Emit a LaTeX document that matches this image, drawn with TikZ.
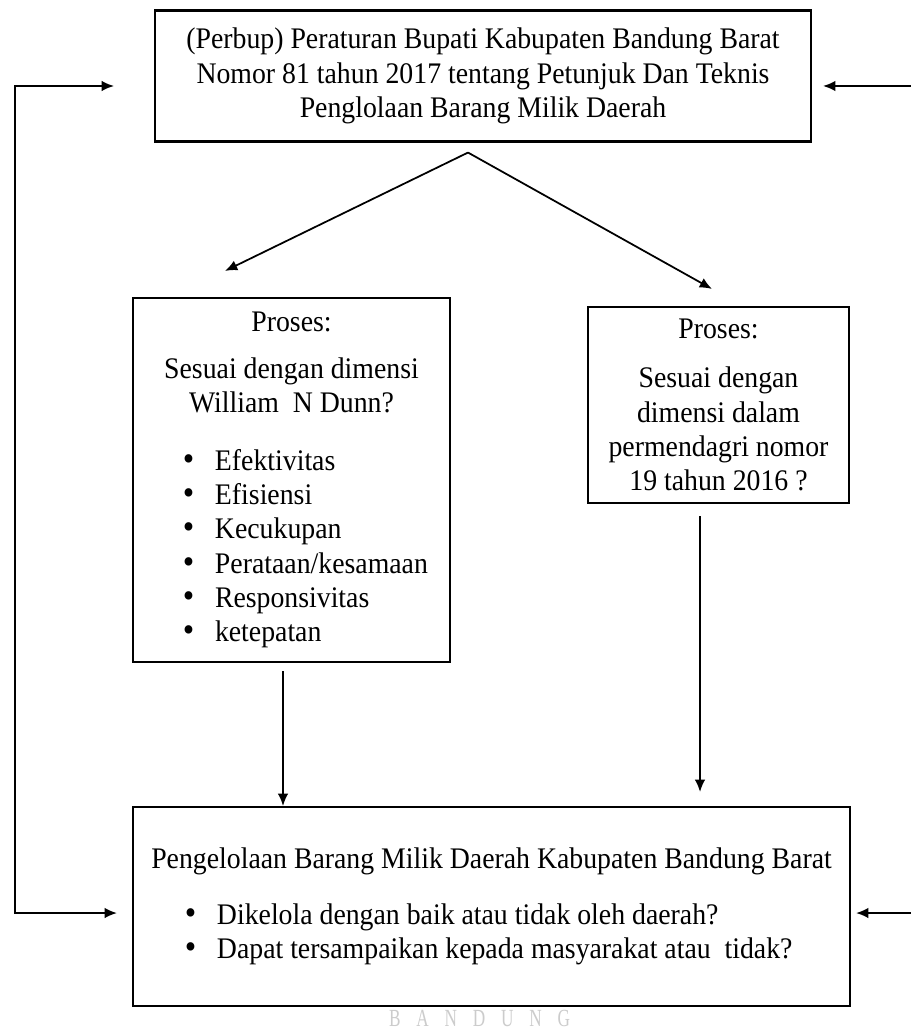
\documentclass[tikz,border=0pt]{standalone}
\usepackage{xcolor}
\usepackage{fontspec}
\setmainfont[FakeStretch=0.93]{Liberation Serif}
\newfontfamily\wmfont[FakeStretch=0.7]{Liberation Serif}
\usepackage{tikz}
\usetikzlibrary{arrows,arrows.meta,shapes,positioning,calc}
\tikzset{box/.style={draw, rectangle, line width=1.2pt, inner sep=0pt, align=center,
    font=\fontsize{17}{19.5}\selectfont}}
\tikzset{arr/.style={-{Latex[length=7pt,width=6pt]}, line width=1pt}}
\newcommand{\itm}[2][43.4mm]{\makebox[#1][l]{\makebox[6.4mm][l]{\fontsize{20}{0}\selectfont\textbullet}#2}}

\begin{document}
\begin{tikzpicture}[x=0.2mm, y=-0.2mm]
        \useasboundingbox (0,0) rectangle (911,1032);

        \node[box, minimum width=131.2mm, minimum height=26.2mm] (perbup) at (483,76)
            {(Perbup) Peraturan Bupati Kabupaten Bandung Barat\\
             Nomor 81 tahun 2017 tentang Petunjuk Dan Teknis\\
             Penglolaan Barang Milik Daerah};
        \node[box, minimum width=63.4mm, minimum height=72.8mm] (procA) at (291.5,480)
            {Proses:\\[7pt]
             Sesuai dengan dimensi\\
             William~ N Dunn?\\[13.5pt]
             \itm{Efektivitas}\\
             \itm{Efisiensi}\\
             \itm{Kecukupan}\\
             \itm{Perataan/kesamaan}\\
             \itm{Responsivitas}\\
             \itm{ketepatan}};
        \node[box, minimum width=52.2mm, minimum height=39.2mm] (procB) at (718.5,405)
            {Proses:\\[8.5pt]
             Sesuai dengan\\
             dimensi dalam\\
             permendagri nomor\\
             19 tahun 2016 ?};
        \node[box, minimum width=143.4mm, minimum height=39.8mm] (mgmt) at (491.5,906.5)
            {Pengelolaan Barang Milik Daerah Kabupaten Bandung Barat\\[12pt]
             \itm[122.6mm]{Dikelola dengan baik atau tidak oleh daerah?}\\
             \itm[122.6mm]{Dapat tersampaikan kepada masyarakat atau~ tidak?}};

        % split below the regulation box
        \coordinate (split) at ($(perbup.south)+(-15,10)$);
        \coordinate (tipA) at ($(procA.north)+(-66.5,-26)$);
        \coordinate (tipB) at ($(procB.north)+(-6.5,-17)$);
        \draw[arr] (split) -- (tipA);
        \draw[arr] (split) -- (tipB);

        % down to the management box
        \coordinate (downA) at ($(procA.south)+(-8.5,8)$);
        \coordinate (downB) at ($(procB.south)+(-18.5,12)$);
        \draw[arr] (downA) -- (downA |- mgmt.north);
        \draw[arr] (downB) -- ($(downB |- mgmt.north)+(0,-14)$);

        % feedback lines
        \coordinate (lt) at (15,86);
        \coordinate (lb) at (15,913);
        \coordinate (rt) at (911,86);
        \coordinate (rb) at (911,913);
        \draw[line width=1pt, line cap=rect] (lt) -- (lb);
        \draw[arr] (lt) -- ($(lt -| perbup.west)+(-40,0)$);
        \draw[arr] (lb) -- ($(lb -| mgmt.west)+(-15,0)$);
        \draw[arr] (rt) -- ($(rt -| perbup.east)+(11,0)$);
        \draw[arr] (rb) -- ($(rb -| mgmt.east)+(5,0)$);

        \node[font=\wmfont\fontsize{14}{14}\selectfont, text=gray!40, anchor=base, inner sep=0pt] (wm) at (479.5,1026)
            {B\hspace{9pt}A\hspace{9pt}N\hspace{9pt}D\hspace{9pt}U\hspace{9pt}N\hspace{9pt}G};
    \end{tikzpicture}
\end{document}
